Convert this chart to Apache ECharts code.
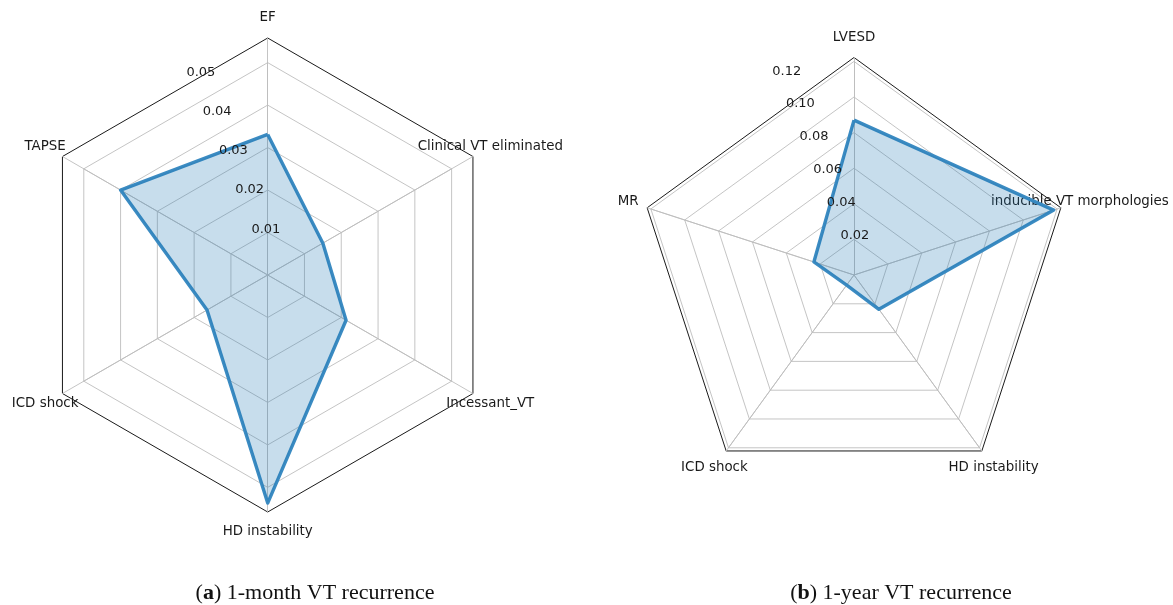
<!DOCTYPE html>
<html>
<head>
<meta charset="utf-8">
<title>VT recurrence radar charts</title>
<script src="https://cdn.jsdelivr.net/npm/echarts@6/dist/echarts.min.js"></script>
<style>
  html, body { margin: 0; padding: 0; background: #ffffff; }
  #chart { width: 1173px; height: 605px; }
</style>
</head>
<body>
<div id="chart"></div>
<script>
// Panel (a): 1-month VT recurrence (indicators listed counter-clockwise from the top)
const monthIndicators = ['EF', 'TAPSE', 'ICD shock', 'HD instability', 'Incessant_VT', 'Clinical VT eliminated'];
const monthValues = [0.0331, 0.0400, 0.0165, 0.0537, 0.0213, 0.0150];
const monthTicks = ['0.01', '0.02', '0.03', '0.04', '0.05'];
const monthTickStep = 0.01;
const monthRingMax = 0.05;
const monthAxisMax = 0.0558;

// Panel (b): 1-year VT recurrence
const yearIndicators = ['LVESD', 'MR', 'ICD shock', 'HD instability', 'inducible VT morphologies'];
const yearValues = [0.087, 0.0237, 0.007, 0.0238, 0.118];
const yearTicks = ['0.02', '0.04', '0.06', '0.08', '0.10', '0.12'];
const yearTickStep = 0.02;
const yearRingMax = 0.12;
const yearAxisMax = 0.1222;

const captions = [
  { tag: 'a', text: ' 1-month VT recurrence' },
  { tag: 'b', text: ' 1-year VT recurrence' }
];

// Layout
const panels = [
  { names: monthIndicators, values: monthValues, ticks: monthTicks, step: monthTickStep,
    ringMax: monthRingMax, axisMax: monthAxisMax, center: [267.7, 275], radius: 237, captionX: 310 },
  { names: yearIndicators, values: yearValues, ticks: yearTicks, step: yearTickStep,
    ringMax: yearRingMax, axisMax: yearAxisMax, center: [854, 275], radius: 217.5, captionX: 896 }
];

const FONT = 'DejaVu Sans';
const GRID = '#bdbdbd';
const LINE = '#3b8bc2';

const radar = [];
const polar = [];
const angleAxis = [];
const radiusAxis = [];
const series = [];
const title = [];

panels.forEach(function (p, k) {
  const ringRadius = p.radius * p.ringMax / p.axisMax;
  const nRings = Math.round(p.ringMax / p.step);

  // inner gray rings at each tick value
  radar.push({
    center: p.center,
    radius: ringRadius,
    startAngle: 90,
    shape: 'polygon',
    splitNumber: nRings,
    indicator: p.names.map(function (n) { return { name: n, min: 0, max: p.ringMax }; }),
    axisName: { show: false },
    axisLine: { show: true, lineStyle: { color: GRID, width: 0.9 } },
    axisTick: { show: false },
    axisLabel: { show: false },
    splitLine: { show: true, lineStyle: { color: GRID, width: 0.9 } },
    splitArea: { show: false },
    silent: true
  });

  // outer frame, spokes and category names; the data is plotted here
  radar.push({
    center: p.center,
    radius: p.radius,
    startAngle: 90,
    shape: 'polygon',
    splitNumber: 1,
    indicator: p.names.map(function (n) { return { name: n, min: 0, max: p.axisMax }; }),
    nameGap: 20,
    axisName: {
      show: true, color: '#1a1a1a', fontFamily: FONT, fontSize: 13.4,
      align: 'center', verticalAlign: 'middle'
    },
    axisLine: { show: true, lineStyle: { color: GRID, width: 0.9 } },
    axisTick: { show: false },
    axisLabel: { show: false },
    splitLine: { show: true, lineStyle: { color: '#1a1a1a', width: 1 } },
    splitArea: { show: false }
  });

  // radial tick labels along a ray 22.5 degrees left of the top axis
  polar.push({ center: p.center, radius: [0, p.radius] });
  angleAxis.push({
    polarIndex: k, type: 'value', min: 0, max: 360, startAngle: 112.5,
    show: false, axisLine: { show: false }, splitLine: { show: false },
    axisLabel: { show: false }, axisTick: { show: false }
  });
  radiusAxis.push({
    polarIndex: k, type: 'value', min: 0, max: p.axisMax, interval: p.step,
    axisLine: { show: false }, axisTick: { show: false }, splitLine: { show: false },
    axisLabel: {
      show: true, margin: 0, align: 'left', verticalAlign: 'bottom',
      color: '#1a1a1a', fontFamily: FONT, fontSize: 13, hideOverlap: false,
      formatter: function (v) {
        const s = v.toFixed(2);
        return (p.ticks.indexOf(s) >= 0 && Math.abs(v - Number(s)) < 1e-9) ? s : '';
      }
    },
    z: 5
  });

  series.push({
    type: 'radar',
    radarIndex: 2 * k + 1,
    symbol: 'none',
    silent: true,
    z: 3,
    lineStyle: { color: LINE, width: 3.4, join: 'round' },
    areaStyle: { color: 'rgba(31,119,180,0.25)', opacity: 1 },
    data: [{ value: p.values }]
  });

  title.push({
    text: '({b|' + captions[k].tag + '})' + captions[k].text,
    left: p.captionX,
    top: 577,
    textAlign: 'center',
    textStyle: {
      fontFamily: 'Liberation Serif', fontSize: 22, fontWeight: 'normal', color: '#111',
      rich: { b: { fontFamily: 'Liberation Serif', fontSize: 22, fontWeight: 'bold', color: '#111' } }
    }
  });
});

const chart = echarts.init(document.getElementById('chart'), null, { renderer: 'canvas' });
chart.setOption({
  backgroundColor: '#ffffff',
  animation: false,
  title: title,
  radar: radar,
  polar: polar,
  angleAxis: angleAxis,
  radiusAxis: radiusAxis,
  series: series
});
</script>
</body>
</html>
